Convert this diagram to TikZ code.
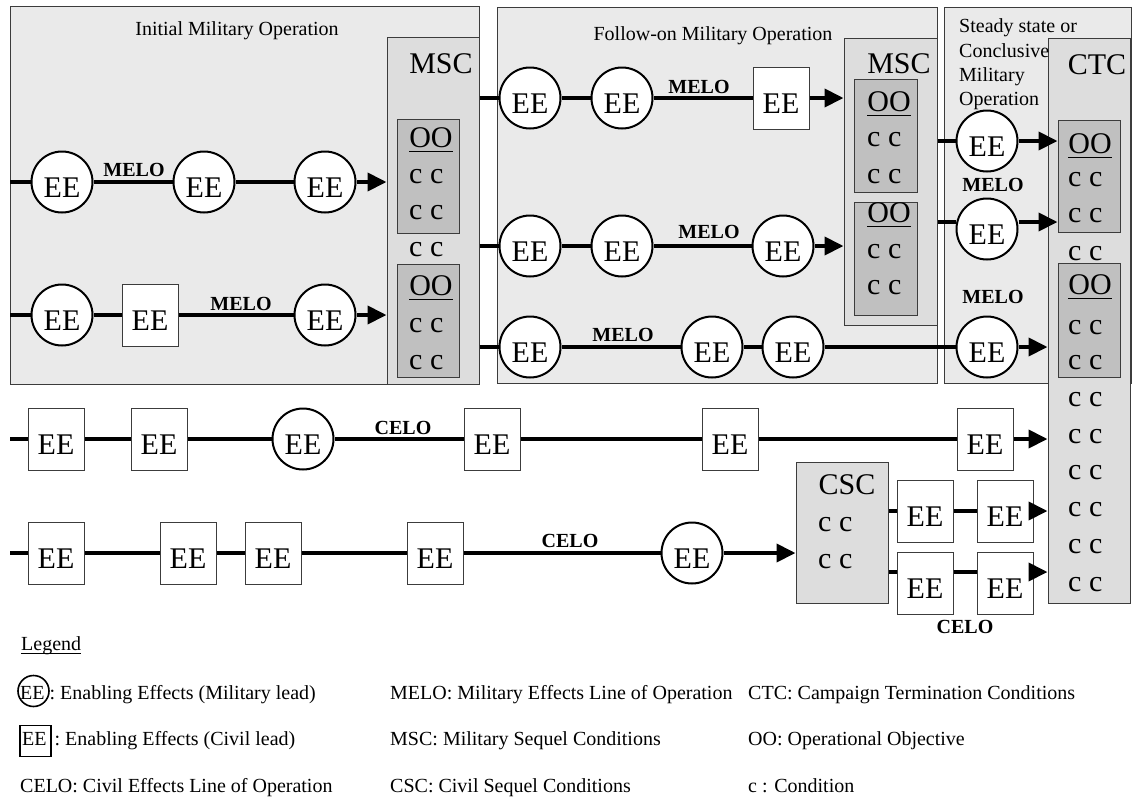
\documentclass[tikz,border=0pt]{standalone}
\usepackage{fontspec}
\setmainfont{Liberation Serif}
\usetikzlibrary{arrows.meta,fit}
\definecolor{panelgray}{RGB}{234,234,234}
\definecolor{seqgray}{RGB}{221,221,221}
\definecolor{oogray}{RGB}{192,192,192}
\definecolor{edgegray}{RGB}{60,60,60}
\tikzset{
  panel/.style={draw=edgegray, fill=panelgray, line width=1pt, inner sep=0pt},
  seqbox/.style={draw=edgegray, fill=seqgray, line width=1pt, inner sep=0pt},
  oobox/.style={draw=edgegray, fill=oogray, line width=1pt, inner sep=0pt},
  big/.style={font=\fontsize{30}{32}\selectfont, inner sep=0pt},
  ttl/.style={font=\fontsize{20}{24}\selectfont, inner sep=0pt},
  lbl/.style={font=\fontsize{20}{24}\selectfont\bfseries, inner sep=0pt},
  leg/.style={font=\fontsize{20}{24}\selectfont, inner sep=0pt, anchor=base west},
  mil/.style={circle, draw=black, line width=2pt, fill=white, minimum size=61pt,
    inner sep=0pt, font=\fontsize{30}{32}\selectfont, text height=30pt, text depth=0pt},
  civ/.style={rectangle, draw=edgegray, line width=1pt, fill=white, minimum width=56pt,
    minimum height=62pt, inner sep=0pt, font=\fontsize{30}{32}\selectfont,
    text height=30pt, text depth=0pt},
  flow/.style={line width=4pt},
  arr/.style={line width=4pt, -{Triangle[length=19pt,width=18pt]}},
  uline/.style={line width=1.3pt}
}
\begin{document}
\begin{tikzpicture}[x=1pt,y=-1pt]
\useasboundingbox (0,0) rectangle (1133,804);

% ---------- panels ----------
\node[panel, fit={(10,6)(479,384)}] (p1) {};
\node[panel, fit={(497,7)(937,383)}] (p2) {};
\node[panel, fit={(944,7)(1131,383)}] (p3) {};

% ---------- sequel / termination boxes ----------
\node[seqbox, fit={(387,37)(479,384)}] (msc1) {};
\node[seqbox, fit={(844,38)(937,325)}] (msc2) {};
\node[seqbox, fit={(1048,38)(1130,603)}] (ctc) {};
\node[seqbox, fit={(796,462)(888,603)}] (csc) {};

\node[oobox, fit={(397,119)(459,233)}] (oo1a) {};
\node[oobox, fit={(397,264)(459,377)}] (oo1b) {};
\node[oobox, fit={(854,79)(917,192)}] (oo2a) {};
\node[oobox, fit={(854,202)(917,315)}] (oo2b) {};
\node[oobox, fit={(1058,120)(1120,232)}] (ooca) {};
\node[oobox, fit={(1058,263)(1120,377)}] (oocb) {};

% ---------- titles ----------
\node[ttl] (t1) at (237,31) {Initial Military Operation};
\node[ttl] (t2) at (713,36) {Follow-on Military Operation};
\node[ttl, anchor=base west] (t3a) at (959,32) {Steady state or};
\node[ttl, anchor=base west] (t3b) at (959,57) {Conclusive};
\node[ttl, anchor=base west] (t3c) at (959,81) {Military};
\node[ttl, anchor=base west] (t3d) at (959,105) {Operation};

\node[big] (msc1t) at (441,64) {MSC};
\node[big] (msc2t) at (899,64) {MSC};
\node[big] (ctct) at (1097,65) {CTC};
\node[big] (csct) at (847,485) {CSC};

% ---------- OO labels ----------
\node[big] (oo1at) at (431,138) {OO};
\node[big] (oo1bt) at (431,286) {OO};
\node[big] (oo2at) at (889,102) {OO};
\node[big] (oo2bt) at (889,213) {OO};
\node[big] (oocat) at (1090,144) {OO};
\node[big] (oocbt) at (1090,285) {OO};
\foreach \n in {oo1at,oo1bt,oo2at,oo2bt,oocat,oocbt}
  \draw[uline] ([yshift=-4pt]\n.base west) -- ([yshift=-4pt]\n.base east);

% ---------- conditions ----------
\foreach \y [count=\i] in {177,213,250,326,363}
  \node[big, anchor=west] (cm\i) at (409,\y) {c c};
\foreach \y [count=\i] in {140,177,252,288}
  \node[big, anchor=west] (cn\i) at (867,\y) {c c};
\foreach \y [count=\i] in {180,216,254,328,363,400,437,473,510,547,585}
  \node[big, anchor=west] (ct\i) at (1068,\y) {c c};
\foreach \y [count=\i] in {525,562}
  \node[big, anchor=west] (cs\i) at (818,\y) {c c};

% ---------- row 1 (panel 1) ----------
\coordinate (r1s) at (10,182);
\node[mil] (a1) at (62,182) {EE};
\node[mil] (a2) at (204,182) {EE};
\node[mil] (a3) at (325,182) {EE};
\draw[flow] (r1s) -- (a1);
\draw[flow] (a1) -- (a2);
\draw[flow] (a2) -- (a3);
\draw[arr] (a3) -- (msc1.west |- a3);
\node[lbl] (m1) at (134,170) {MELO};

% ---------- row 2 (panel 1) ----------
\coordinate (r2s) at (10,315);
\node[mil] (b1) at (62,315) {EE};
\node[civ] (b2) at (150,315) {EE};
\node[mil] (b3) at (325,315) {EE};
\draw[flow] (r2s) -- (b1);
\draw[flow] (b1) -- (b2);
\draw[flow] (b2) -- (b3);
\draw[arr] (b3) -- (msc1.west |- b3);
\node[lbl] (m2) at (241,304) {MELO};

% ---------- row A (panel 2) ----------
\node[mil] (c1) at (530,98) {EE};
\node[mil] (c2) at (622,98) {EE};
\node[civ] (c3) at (781,98) {EE};
\draw[flow] (msc1.east |- c1) -- (c1);
\draw[flow] (c1) -- (c2);
\draw[flow] (c2) -- (c3);
\draw[arr] (c3) -- (msc2.west |- c3);
\node[lbl] (m3) at (699,87) {MELO};

% ---------- row B (panel 2) ----------
\node[mil] (d1) at (530,246) {EE};
\node[mil] (d2) at (622,246) {EE};
\node[mil] (d3) at (783,246) {EE};
\draw[flow] (msc1.east |- d1) -- (d1);
\draw[flow] (d1) -- (d2);
\draw[flow] (d2) -- (d3);
\draw[arr] (d3) -- (msc2.west |- d3);
\node[lbl] (m4) at (709,232) {MELO};

% ---------- row C (panels 2-3) ----------
\node[mil] (e1) at (530,347) {EE};
\node[mil] (e2) at (712,347) {EE};
\node[mil] (e3) at (793,347) {EE};
\node[mil] (e4) at (987,347) {EE};
\draw[flow] (msc1.east |- e1) -- (e1);
\draw[flow] (e1) -- (e2);
\draw[flow] (e2) -- (e3);
\draw[flow] (e3) -- (e4);
\draw[arr] (e4) -- (ctc.west |- e4);
\node[lbl] (m5) at (623,335) {MELO};

% ---------- panel 3 rows ----------
\node[mil] (f1) at (987,141) {EE};
\draw[flow] (msc2.east |- f1) -- (f1);
\draw[arr] (f1) -- (ooca.west |- f1);
\node[lbl] (m6) at (993,185) {MELO};

\coordinate (fy) at (0,222);
\node[mil] (f2) at (987,229) {EE};
\draw[flow] (msc2.east |- fy) -- (f2.west |- fy);
\draw[arr] (f2.east |- fy) -- (ooca.west |- fy);
\node[lbl] (m7) at (993,297) {MELO};

% ---------- row D (CELO) ----------
\coordinate (rDs) at (10,439);
\node[civ] (g1) at (56,439) {EE};
\node[civ] (g2) at (159,439) {EE};
\node[mil] (g3) at (303,439) {EE};
\node[civ] (g4) at (492,439) {EE};
\node[civ] (g5) at (730,439) {EE};
\node[civ] (g6) at (985,439) {EE};
\draw[flow] (rDs) -- (g1);
\draw[flow] (g1) -- (g2);
\draw[flow] (g2) -- (g3);
\draw[flow] (g3) -- (g4);
\draw[flow] (g4) -- (g5);
\draw[flow] (g5) -- (g6);
\draw[arr] (g6) -- (ctc.west |- g6);
\node[lbl] (c1l) at (403,428) {CELO};

% ---------- row E (CELO) ----------
\coordinate (rEs) at (10,553);
\node[civ] (h1) at (56,553) {EE};
\node[civ] (h2) at (188,553) {EE};
\node[civ] (h3) at (273,553) {EE};
\node[civ] (h4) at (435,553) {EE};
\node[mil] (h5) at (692,553) {EE};
\draw[flow] (rEs) -- (h1);
\draw[flow] (h1) -- (h2);
\draw[flow] (h2) -- (h3);
\draw[flow] (h3) -- (h4);
\draw[flow] (h4) -- (h5);
\draw[arr] (h5) -- (csc.west |- h5);
\node[lbl] (c2l) at (570,541) {CELO};

% ---------- after CSC ----------
\node[civ] (i1) at (925,511) {EE};
\node[civ] (i2) at (1005,511) {EE};
\draw[flow] (csc.east |- i1) -- (i1);
\draw[flow] (i1) -- (i2);
\draw[arr] (i2) -- (ctc.west |- i2);

\coordinate (jy) at (0,572);
\node[civ] (j1) at (925,583.5) {EE};
\node[civ] (j2) at (1005,583.5) {EE};
\draw[flow] (csc.east |- jy) -- (j1.west |- jy);
\draw[flow] (j1.east |- jy) -- (j2.west |- jy);
\draw[arr] (j2.east |- jy) -- (ctc.west |- jy);
\node[lbl] (c3l) at (965,627) {CELO};

% ---------- legend ----------
\node[leg] (lg) at (21,650) {Legend};
\draw[line width=1pt] ([yshift=-3pt]lg.base west) -- ([yshift=-3pt]lg.base east);

\node[leg] (l11) at (20,699) {EE\hspace{5pt}: Enabling Effects (Military lead)};
\node[circle, draw=black, line width=1.6pt, minimum size=31pt, inner sep=0pt] (l11c) at (33.5,691) {};
\node[leg] (l21) at (22,745) {EE\hspace{8pt}: Enabling Effects (Civil lead)};
\node[draw=black, line width=1.6pt, minimum width=31pt, minimum height=31pt, inner sep=0pt] (l21s) at (35.5,741) {};
\node[leg] (l31) at (20,792) {CELO: Civil Effects Line of Operation};

\node[leg] (l12) at (390,699) {MELO: Military Effects Line of Operation};
\node[leg] (l22) at (390,745) {MSC: Military Sequel Conditions};
\node[leg] (l32) at (390,792) {CSC: Civil Sequel Conditions};

\node[leg] (l13) at (748,699) {CTC: Campaign Termination Conditions};
\node[leg] (l23) at (748,745) {OO: Operational Objective};
\node[leg] (l33) at (748,792) {c : Condition};
\end{tikzpicture}
\end{document}
